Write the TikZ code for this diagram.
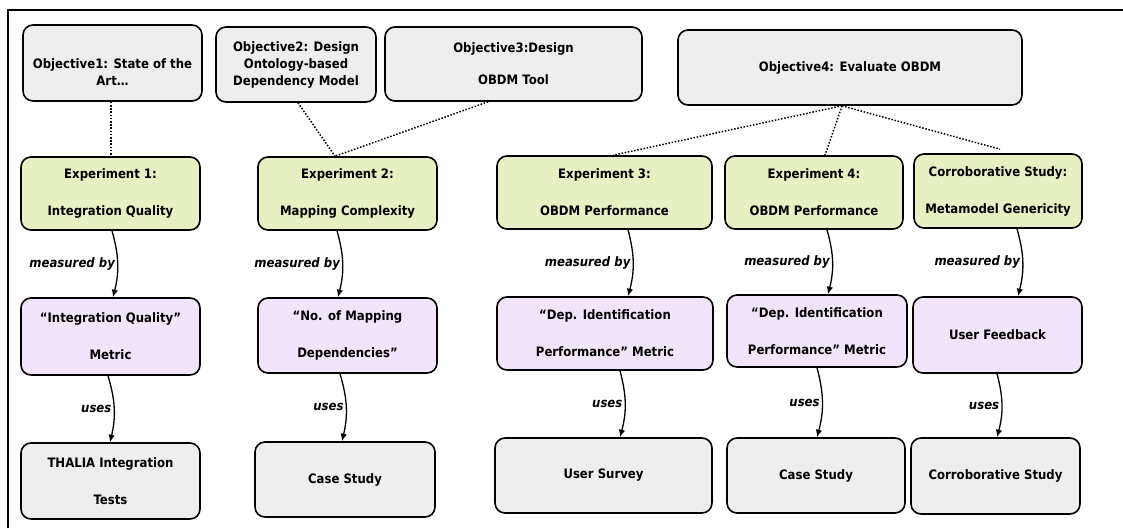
\documentclass[tikz,border=0pt]{standalone}
\usepackage{fontspec}
\newfontfamily\mapfont[FakeStretch=0.9]{DejaVu Sans}
\usetikzlibrary{arrows.meta}

\definecolor{boxgray}{RGB}{238,238,238}
\definecolor{boxgreen}{RGB}{230,240,195}
\definecolor{boxpurple}{RGB}{240,229,251}

\tikzset{
  box/.style={draw=black, line width=1.6pt, rounded corners=10pt, inner sep=0pt,
    align=center, font=\mapfont\bfseries\fontsize{13}{15}\selectfont},
  objbox/.style={box, fill=boxgray},
  expbox/.style={box, fill=boxgreen},
  metbox/.style={box, fill=boxpurple},
  resbox/.style={box, fill=boxgray},
  tie/.style={line width=1.5pt, dash pattern=on 1.5pt off 1.7pt},
  link/.style={line width=1.3pt, -{Latex[length=7.5pt,width=6.5pt]}},
  rel/.style={font=\mapfont\bfseries\itshape\fontsize{13}{15}\selectfont,
    left, inner sep=2pt, midway}
}

\begin{document}
\begin{tikzpicture}[x=1pt, y=-1pt]
  \useasboundingbox (0,0) rectangle (1123,528);
  \fill[white] (0,0) rectangle (1123,528);

  % outer frame (top and left edges)
  \draw[line width=2.5pt] (8,528) -- (8,10) -- (1123,10);

  % objectives
  \node[objbox, minimum width=179pt, minimum height=76pt] (o1) at (112.5,63)
    {\strut\\[2pt]Objective1: State of the\\[2pt]Art…};
  \node[objbox, minimum width=160pt, minimum height=75pt] (o2) at (296,64.5)
    {Objective2: Design\\[2pt]Ontology-based\\[2pt]Dependency Model};
  \node[objbox, minimum width=257pt, minimum height=74pt] (o3) at (513.5,64)
    {Objective3:Design\\[17pt]OBDM Tool};
  \node[objbox, minimum width=344pt, minimum height=75pt] (o4) at (850,67.5)
    {Objective4: Evaluate OBDM};

  % experiments
  \node[expbox, minimum width=179pt, minimum height=73pt] (e1) at (110.5,193.5)
    {Experiment 1:\\[22pt]Integration Quality};
  \node[expbox, minimum width=179pt, minimum height=73pt] (e2) at (347.5,193.5)
    {Experiment 2:\\[22pt]Mapping Complexity};
  \node[expbox, minimum width=215pt, minimum height=73pt] (e3) at (604.5,192.5)
    {Experiment 3:\\[22pt]OBDM Performance};
  \node[expbox, minimum width=178pt, minimum height=73pt] (e4) at (814,192.5)
    {Experiment 4:\\[22pt]OBDM Performance};
  \node[expbox, minimum width=168pt, minimum height=74pt] (e5) at (998,191)
    {Corroborative Study:\\[22pt]Metamodel Genericity};

  % metrics
  \node[metbox, minimum width=179pt, minimum height=77pt] (m1) at (110.5,336.5)
    {“Integration Quality”\\[22pt]Metric};
  \node[metbox, minimum width=179pt, minimum height=75pt] (m2) at (347.5,335.5)
    {“No. of Mapping\\[22pt]Dependencies”};
  \node[metbox, minimum width=216pt, minimum height=73pt] (m3) at (605,333.5)
    {“Dep. Identification\\[22pt]Performance” Metric};
  \node[metbox, minimum width=180pt, minimum height=72pt] (m4) at (817,331)
    {“Dep. Identification\\[22pt]Performance” Metric};
  \node[metbox, minimum width=169pt, minimum height=76pt] (m5) at (997.5,335)
    {User Feedback};

  % instruments
  \node[resbox, minimum width=179pt, minimum height=76pt] (r1) at (110.5,481)
    {THALIA Integration\\[22pt]Tests};
  \node[resbox, minimum width=180pt, minimum height=75pt] (r2) at (345,479.5)
    {Case Study};
  \node[resbox, minimum width=217pt, minimum height=75pt] (r3) at (603.5,475.5)
    {User Survey};
  \node[resbox, minimum width=178pt, minimum height=75pt] (r4) at (816,475.5)
    {Case Study};
  \node[resbox, minimum width=169pt, minimum height=76pt] (r5) at (995.5,476)
    {Corroborative Study};

  % objective -> experiment ties
  \draw[tie] ([xshift=-1.5pt]o1.south) -- ([xshift=0.5pt]e1.north);
  \draw[tie] ([xshift=2pt]o2.south) -- ([xshift=-12.5pt]e2.north);
  \draw[tie] ([xshift=-25.5pt]o3.south) -- ([xshift=-12.5pt]e2.north);
  \draw[tie] ([xshift=-8pt]o4.south) -- ([xshift=8.5pt]e3.north);
  \draw[tie] ([xshift=-8pt]o4.south) -- ([xshift=11pt]e4.north);
  \draw[tie] ([xshift=-8pt]o4.south) -- ([xshift=2pt,yshift=4pt]e5.north);

  % measured by
  \draw[link] ([xshift=1.5pt]e1.south) to[bend left=15]
    node[rel] {measured by} ([xshift=2.5pt]m1.north);
  \draw[link] ([xshift=-10.5pt]e2.south) to[bend left=15]
    node[rel] {measured by} ([xshift=-9.5pt]m2.north);
  \draw[link] ([xshift=23.5pt]e3.south) to[bend left=15]
    node[rel] {measured by} ([xshift=23pt]m3.north);
  \draw[link] ([xshift=13pt]e4.south) to[bend left=15]
    node[rel] {measured by} ([xshift=11pt]m4.north);
  \draw[link] ([xshift=19pt]e5.south) to[bend left=15]
    node[rel] {measured by} ([xshift=20.5pt]m5.north);

  % uses
  \draw[link] ([xshift=-2.5pt]m1.south) to[bend left=15]
    node[rel] {uses} ([xshift=-0.5pt]r1.north);
  \draw[link] ([xshift=-7.5pt]m2.south) to[bend left=15]
    node[rel] {uses} ([xshift=-3pt]r2.north);
  \draw[link] ([xshift=15pt]m3.south) to[bend left=15]
    node[rel] {uses} ([xshift=16.5pt]r3.north);
  \draw[link] (m4.south) to[bend left=15]
    node[rel] {uses} ([xshift=1pt]r4.north);
  \draw[link] ([xshift=-0.5pt]m5.south) to[bend left=15]
    node[rel] {uses} ([xshift=1.5pt]r5.north);
\end{tikzpicture}
\end{document}
